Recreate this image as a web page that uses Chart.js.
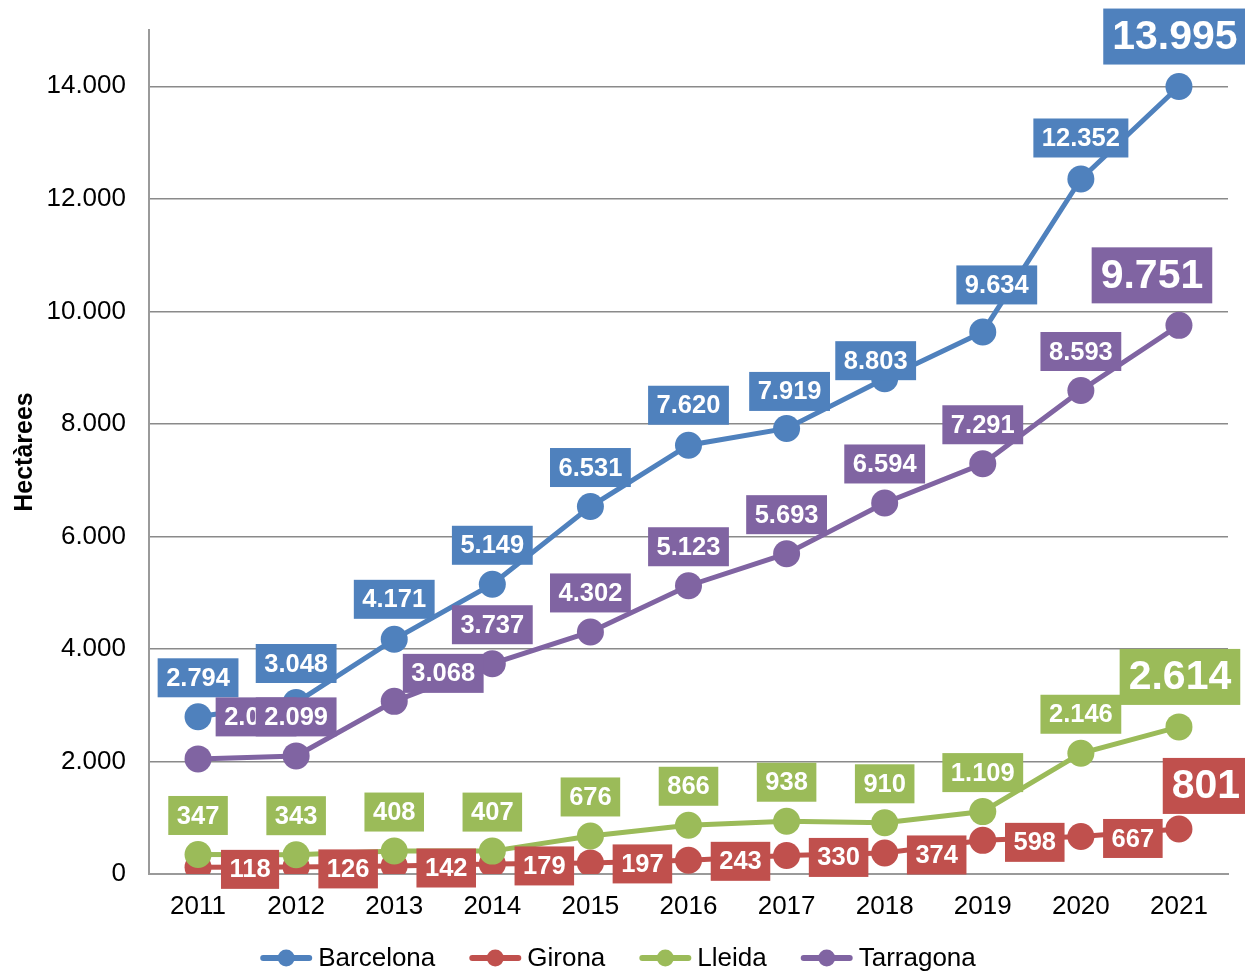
<!DOCTYPE html>
<html>
<head>
<meta charset="utf-8">
<script src="https://cdn.jsdelivr.net/npm/chart.js@4/dist/chart.umd.min.js"></script>
<style>
html,body{margin:0;padding:0;background:#fff;}
#wrap{width:1245px;height:972px;}
</style>
</head>
<body>
<div id="wrap"><canvas id="c" width="1245" height="972"></canvas></div>
<script>
const years = ['2011','2012','2013','2014','2015','2016','2017','2018','2019','2020','2021'];
const barcelona = [2794, 3048, 4171, 5149, 6531, 7620, 7919, 8803, 9634, 12352, 13995];
const girona    = [118, 126, 142, 179, 197, 243, 330, 374, 598, 667, 801];
const lleida    = [347, 343, 408, 407, 676, 866, 938, 910, 1109, 2146, 2614];
const tarragona = [2046, 2099, 3068, 3737, 4302, 5123, 5693, 6594, 7291, 8593, 9751];
const yTicks = [0, 2000, 4000, 6000, 8000, 10000, 12000, 14000];

const colors = {Barcelona:'#4F81BD', Girona:'#C0504D', Lleida:'#9BBB59', Tarragona:'#8064A2'};

// label offsets (dx, dy) relative to the point, as placed in the original
const A = [0,-39];
const labelOffsets = {
  Barcelona: [A,A,[0,-40],A,A,[0,-40],[3,-37],[-9,-18],[14,-47],[0,-41],[-4,-50]],
  Girona:    [[52,2],[52,2],[52,2],[52,2],[52,1],[52,1],[52,2],[52,2],[52,2],[52,2],[27,-43]],
  Lleida:    [A,A,A,A,A,A,A,A,A,A,[1,-50]],
  Tarragona: [[58,-42],A,[49,-28],A,A,A,A,A,A,A,[-27,-50]]
};

function fmt(v){ return String(v).replace(/\B(?=(\d{3})+(?!\d))/g,'.'); }

const FONT = '"Liberation Sans", Arial, sans-serif';

const boxLabels = {
  id:'boxLabels',
  afterDatasetsDraw(chart){
    const ctx = chart.ctx;
    ctx.save();
    chart.data.datasets.forEach((ds,i)=>{
      const meta = chart.getDatasetMeta(i);
      meta.data.forEach((pt,j)=>{
        const last = j === ds.data.length-1;
        ctx.font = last ? 'bold 41px '+FONT : 'bold 25.5px '+FONT;
        const txt = fmt(ds.data[j]);
        const w = ctx.measureText(txt).width + (last ? 18 : 17);
        const h = last ? 56 : 39;
        const off = labelOffsets[ds.label][j];
        const cx = pt.x + off[0], cy = pt.y + off[1];
        ctx.fillStyle = ds.borderColor;
        ctx.fillRect(cx - w/2, cy - h/2, w, h);
        ctx.fillStyle = '#ffffff';
        ctx.textAlign = 'center';
        ctx.textBaseline = 'middle';
        ctx.fillText(txt, cx, cy + 1);
      });
    });
    ctx.restore();
  }
};

const legendPlugin = {
  id:'lineLegend',
  afterDraw(chart){
    const ctx = chart.ctx;
    ctx.save();
    ctx.font = '26px ' + FONT;
    const items = chart.data.datasets.map(d=>({label:d.label,color:d.borderColor,tw:ctx.measureText(d.label).width}));
    const lineW = 52, gap = 6, spacing = 34;
    let total = 0;
    items.forEach((it,k)=>{ total += lineW + gap + it.tw + (k<items.length-1?spacing:0); });
    let x = 618 - total/2;
    const y = 958;
    items.forEach(it=>{
      ctx.strokeStyle = it.color; ctx.lineWidth = 6; ctx.lineCap='round';
      ctx.beginPath(); ctx.moveTo(x+3,y); ctx.lineTo(x+lineW-3,y); ctx.stroke();
      ctx.fillStyle = it.color;
      ctx.beginPath(); ctx.arc(x+lineW/2, y, 8.5, 0, Math.PI*2); ctx.fill();
      ctx.fillStyle = '#000'; ctx.textAlign='left'; ctx.textBaseline='middle';
      ctx.fillText(it.label, x+lineW+gap, y+1);
      x += lineW + gap + it.tw + spacing;
    });
    ctx.restore();
  }
};

function mk(label, data, order){
  return {label, data, borderColor:colors[label], backgroundColor:colors[label],
    pointBackgroundColor:colors[label], pointBorderColor:colors[label],
    borderWidth:5, pointRadius:13.5, pointHoverRadius:13.5, pointBorderWidth:0,
    tension:0, order};
}

new Chart(document.getElementById('c'), {
  type:'line',
  data:{
    labels: years,
    datasets:[
      mk('Barcelona', barcelona, 4),
      mk('Girona', girona, 3),
      mk('Lleida', lleida, 2),
      mk('Tarragona', tarragona, 1)
    ]
  },
  options:{
    responsive:false,
    animation:false,
    events:[],
    layout:{padding:{left:0, top:30, right:17, bottom:43}},
    plugins:{legend:{display:false}, tooltip:{enabled:false}, title:{display:false}},
    scales:{
      x:{
        offset:true,
        grid:{display:false, drawTicks:false},
        border:{display:true, color:'#9a9a9a', width:2},
        ticks:{color:'#000', font:{family:FONT, size:26}, padding:17, maxRotation:0},
        afterFit(s){ s.height = 55; s.paddingLeft = 0; s.paddingRight = 0; }
      },
      y:{
        min:0, max:15000,
        afterBuildTicks(s){ s.ticks = yTicks.map(v=>({value:v})); },
        grid:{color:'#8a8a8a', lineWidth:1.5, drawTicks:false},
        border:{display:true, color:'#9a9a9a', width:2},
        ticks:{color:'#000', font:{family:FONT, size:26}, padding:23, callback:(v)=>fmt(v)},
        title:{display:true, text:'Hectàrees', color:'#000', font:{family:FONT, size:25, weight:'bold'}, padding:{top:10,bottom:0}},
        afterFit(s){ s.width = 149; s.paddingTop = 0; s.paddingBottom = 0; }
      }
    }
  },
  plugins:[boxLabels, legendPlugin]
});
</script>
</body>
</html>
